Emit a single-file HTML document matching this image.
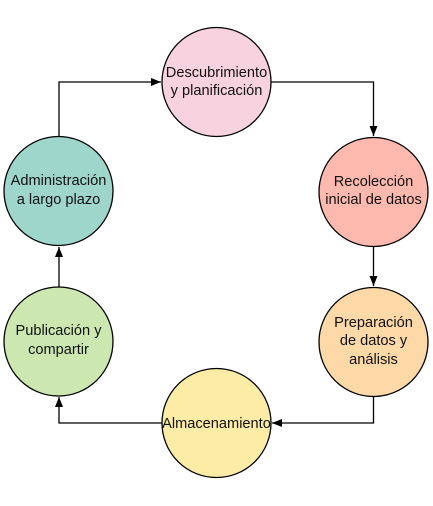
<!DOCTYPE html>
<html><head><meta charset="utf-8"><style>
html,body{margin:0;padding:0;background:#fff;}
svg{display:block;}
text{font-family:"Liberation Sans",sans-serif;font-size:14.6px;fill:#111;text-anchor:middle;}
</style></head><body>
<svg width="433" height="506" viewBox="0 0 433 506">
<defs><marker id="ah" markerWidth="10" markerHeight="8" refX="10" refY="4" orient="auto" markerUnits="userSpaceOnUse"><path d="M0,0 L10,4 L0,8 Z" fill="#000"/></marker></defs>
<g fill="none" stroke="#000" stroke-width="1.3">
<path d="M59,136 V82 H161" marker-end="url(#ah)"/>
<path d="M271,82 H373.5 V136" marker-end="url(#ah)"/>
<path d="M373.5,247 V286" marker-end="url(#ah)"/>
<path d="M373.5,397 V423 H272" marker-end="url(#ah)"/>
<path d="M162,423 H59 V397" marker-end="url(#ah)"/>
<path d="M59,287 V247" marker-end="url(#ah)"/>
</g>
<g stroke="#000" stroke-width="1.3">
<circle cx="216.5" cy="82" r="54.5" fill="#f8d3df"/>
<circle cx="373.5" cy="192" r="54.5" fill="#fdb9ad"/>
<circle cx="373.5" cy="342" r="54.5" fill="#fcd9a7"/>
<circle cx="216.5" cy="423" r="54.5" fill="#fdeca6"/>
<circle cx="58.5" cy="341.5" r="54.5" fill="#cce8b0"/>
<circle cx="58.5" cy="191" r="54.5" fill="#9ed6cc"/>
</g>
<text x="216.5" y="77">Descubrimiento</text>
<text x="216.5" y="95">y planificación</text>
<text x="373.5" y="186">Recolección</text>
<text x="373.5" y="204">inicial de datos</text>
<text x="373.5" y="327">Preparación</text>
<text x="373.5" y="345">de datos y</text>
<text x="373.5" y="364">análisis</text>
<text x="216.5" y="428">Almacenamiento</text>
<text x="58.5" y="335">Publicación y</text>
<text x="58.5" y="354">compartir</text>
<text x="58.5" y="185">Administración</text>
<text x="58.5" y="204">a largo plazo</text>
</svg>
</body></html>
